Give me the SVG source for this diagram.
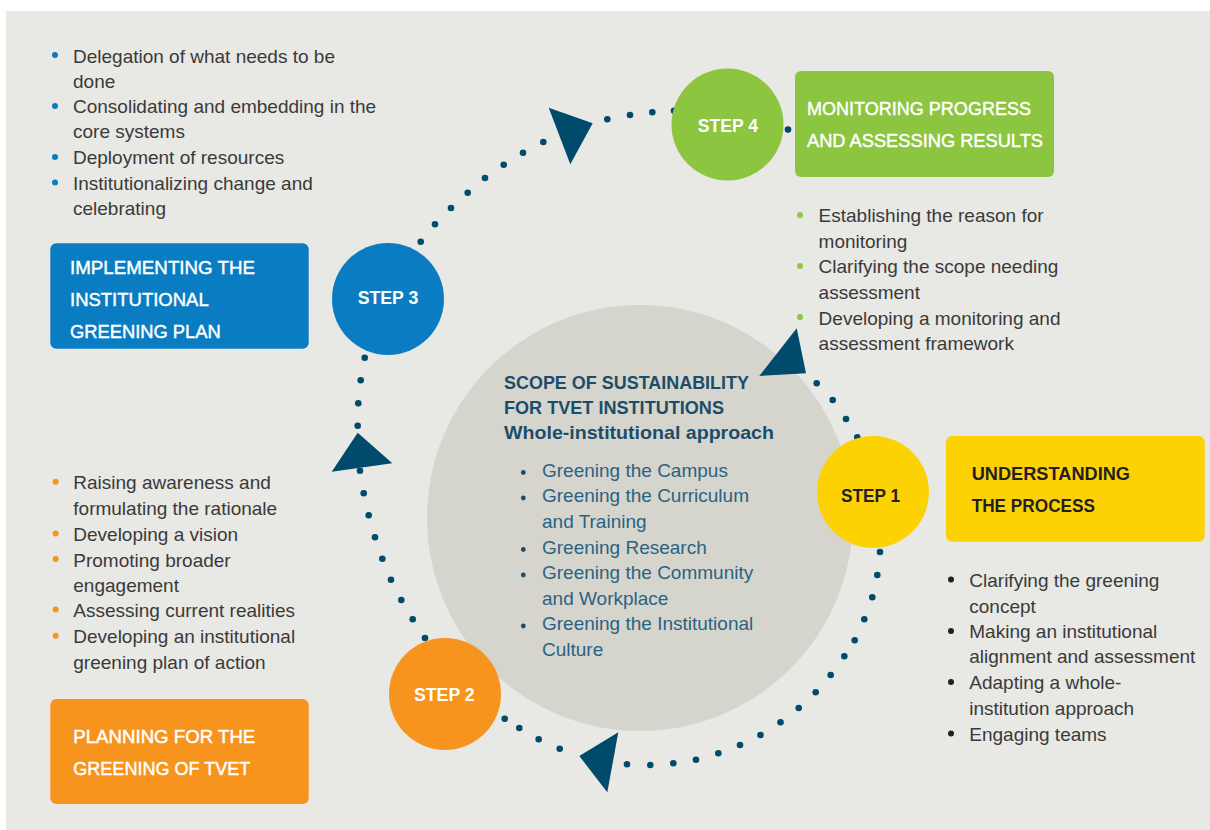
<svg xmlns="http://www.w3.org/2000/svg" width="1210" height="830" viewBox="0 0 1210 830">
<style>
.body{font-family:"Liberation Sans",Arial,sans-serif;font-size:19px;fill:#3a3a3a}
.hw{font-family:"Liberation Sans",Arial,sans-serif;font-size:19px;fill:#ffffff;stroke:#ffffff;stroke-width:0.45}
.hd{font-family:"Liberation Sans",Arial,sans-serif;font-size:19px;font-weight:bold;fill:#231f20}
.step{font-family:"Liberation Sans",Arial,sans-serif;font-size:18px;font-weight:bold;text-anchor:middle}
.ttl{font-family:"Liberation Sans",Arial,sans-serif;font-size:19px;font-weight:bold;fill:#1b4d6b}
.lst{font-family:"Liberation Sans",Arial,sans-serif;font-size:19px;fill:#2a6382}
.dot{fill:#004a6b}
.tri{fill:#004a6b}
</style>
<rect x="0" y="0" width="1210" height="830" fill="#ffffff"/>
<rect x="6" y="11" width="1204" height="819" fill="#e8e8e4"/>

<g id="scope">
<circle cx="640" cy="518" r="213" fill="#d6d5cd"/>
<text class="ttl" x="504" y="389.3" textLength="245" lengthAdjust="spacingAndGlyphs">SCOPE OF SUSTAINABILITY</text>
<text class="ttl" x="504" y="414" textLength="220" lengthAdjust="spacingAndGlyphs">FOR TVET INSTITUTIONS</text>
<text class="ttl" x="504" y="439.3" textLength="270" lengthAdjust="spacingAndGlyphs">Whole-institutional approach</text>
<g fill="#1b4d6b">
<circle cx="523.3" cy="472.5" r="2.4"/>
<circle cx="523.3" cy="498" r="2.4"/>
<circle cx="523.3" cy="549.5" r="2.4"/>
<circle cx="523.3" cy="575" r="2.4"/>
<circle cx="523.3" cy="626" r="2.4"/>
</g>
<text class="lst" x="542" y="476.7">Greening the Campus</text>
<text class="lst" x="542" y="502.3">Greening the Curriculum</text>
<text class="lst" x="542" y="527.7">and Training</text>
<text class="lst" x="542" y="554">Greening Research</text>
<text class="lst" x="542" y="579.3">Greening the Community</text>
<text class="lst" x="542" y="605">and Workplace</text>
<text class="lst" x="542" y="630">Greening the Institutional</text>
<text class="lst" x="542" y="656">Culture</text>
</g>

<g id="connectors">
<g class="dot">
<circle cx="420.7" cy="241.7" r="3.3"/><circle cx="435" cy="224.3" r="3.3"/><circle cx="451" cy="208" r="3.3"/><circle cx="467.7" cy="192.7" r="3.3"/><circle cx="485" cy="178" r="3.3"/><circle cx="503.7" cy="164.7" r="3.3"/><circle cx="523" cy="152.7" r="3.3"/><circle cx="543.3" cy="142" r="3.3"/>
<circle cx="607.3" cy="119.3" r="3.3"/><circle cx="630" cy="115" r="3.3"/><circle cx="652.3" cy="112.3" r="3.3"/><circle cx="674" cy="110.7" r="3.3"/>
<circle cx="788" cy="129.6" r="3.3"/>
<circle cx="816.7" cy="383.3" r="3.3"/><circle cx="832.7" cy="400" r="3.3"/><circle cx="846" cy="419" r="3.3"/><circle cx="857.3" cy="437.3" r="3.3"/>
<circle cx="880" cy="552" r="3.3"/><circle cx="877.3" cy="575" r="3.3"/><circle cx="872.3" cy="597.3" r="3.3"/><circle cx="864.3" cy="619.3" r="3.3"/><circle cx="854.7" cy="640.3" r="3.3"/><circle cx="844.3" cy="656.3" r="3.3"/><circle cx="830.7" cy="675" r="3.3"/><circle cx="815.7" cy="692.3" r="3.3"/><circle cx="798.7" cy="708" r="3.3"/><circle cx="780.5" cy="722.3" r="3.3"/><circle cx="760.5" cy="735" r="3.3"/><circle cx="740" cy="745" r="3.3"/><circle cx="718.3" cy="753.3" r="3.3"/><circle cx="696" cy="759.7" r="3.3"/><circle cx="673.3" cy="763.3" r="3.3"/><circle cx="650.3" cy="765" r="3.3"/><circle cx="627" cy="764.3" r="3.3"/>
<circle cx="559.7" cy="748.7" r="3.3"/><circle cx="538.7" cy="739.3" r="3.3"/><circle cx="519.3" cy="728" r="3.3"/><circle cx="504.7" cy="718.7" r="3.3"/>
<circle cx="425" cy="638" r="3.3"/><circle cx="412.7" cy="619.3" r="3.3"/><circle cx="401.3" cy="600" r="3.3"/><circle cx="391" cy="579.7" r="3.3"/><circle cx="382.3" cy="558.7" r="3.3"/><circle cx="375" cy="537.3" r="3.3"/><circle cx="368.7" cy="515.3" r="3.3"/><circle cx="363.7" cy="493.3" r="3.3"/><circle cx="360" cy="470.7" r="3.3"/>
<circle cx="357.7" cy="425.7" r="3.3"/><circle cx="358.3" cy="403.3" r="3.3"/><circle cx="360.7" cy="380.3" r="3.3"/><circle cx="364.7" cy="357.7" r="3.3"/>
</g>
<polygon class="tri" points="548.7,107.7 592.7,123.3 570.3,164.3"/>
<polygon class="tri" points="796.7,328.3 806,373.3 759.3,376"/>
<polygon class="tri" points="579.3,756 618.3,732.3 607.3,792.3"/>
<polygon class="tri" points="357.7,432.7 392.3,463.3 331.7,471.7"/>
</g>

<g id="step1">
<circle cx="873" cy="492" r="56" fill="#fdd203"/>
<text class="step" x="870.5" y="501.7" fill="#231f20" textLength="59" lengthAdjust="spacingAndGlyphs">STEP 1</text>
<rect x="946" y="436" width="258.7" height="105.7" rx="6" fill="#fdd203"/>
<text class="hd" x="971.7" y="480" textLength="158.3" lengthAdjust="spacingAndGlyphs">UNDERSTANDING</text>
<text class="hd" x="971.7" y="511.7" textLength="123.3" lengthAdjust="spacingAndGlyphs">THE PROCESS</text>
<g fill="#231f20">
<circle cx="951" cy="579.5" r="3"/><circle cx="951" cy="631" r="3"/><circle cx="951" cy="682" r="3"/><circle cx="951" cy="733.5" r="3"/>
</g>
<text class="body" x="969.3" y="586.7">Clarifying the greening</text>
<text class="body" x="969.3" y="612.7">concept</text>
<text class="body" x="969.3" y="638.3">Making an institutional</text>
<text class="body" x="969.3" y="663.3">alignment and assessment</text>
<text class="body" x="969.3" y="689.3">Adapting a whole-</text>
<text class="body" x="969.3" y="715">institution approach</text>
<text class="body" x="969.3" y="740.7">Engaging teams</text>
</g>

<g id="step2">
<circle cx="445" cy="694" r="56" fill="#f7941e"/>
<text class="step" x="444.3" y="700.7" fill="#ffffff" textLength="60.7" lengthAdjust="spacingAndGlyphs">STEP 2</text>
<rect x="50.3" y="699" width="258.4" height="105" rx="6" fill="#f7941e"/>
<text class="hw" x="73.3" y="743.3" textLength="182" lengthAdjust="spacingAndGlyphs">PLANNING FOR THE</text>
<text class="hw" x="73.3" y="775" textLength="177" lengthAdjust="spacingAndGlyphs">GREENING OF TVET</text>
<g fill="#f7941e">
<circle cx="55.7" cy="481.7" r="3"/><circle cx="55.7" cy="533.5" r="3"/><circle cx="55.7" cy="559" r="3"/><circle cx="55.7" cy="609.5" r="3"/><circle cx="55.7" cy="635.8" r="3"/>
</g>
<text class="body" x="73.3" y="489.3">Raising awareness and</text>
<text class="body" x="73.3" y="515">formulating the rationale</text>
<text class="body" x="73.3" y="541">Developing a vision</text>
<text class="body" x="73.3" y="566.7">Promoting broader</text>
<text class="body" x="73.3" y="592">engagement</text>
<text class="body" x="73.3" y="617">Assessing current realities</text>
<text class="body" x="73.3" y="643.3">Developing an institutional</text>
<text class="body" x="73.3" y="669">greening plan of action</text>
</g>

<g id="step3">
<circle cx="388" cy="299" r="56" fill="#0a7dc2"/>
<text class="step" x="388" y="304" fill="#ffffff" textLength="60.6" lengthAdjust="spacingAndGlyphs">STEP 3</text>
<rect x="50.3" y="243.3" width="258.4" height="105.4" rx="6" fill="#0a7dc2"/>
<text class="hw" x="70" y="274.3" textLength="185" lengthAdjust="spacingAndGlyphs">IMPLEMENTING THE</text>
<text class="hw" x="70" y="306" textLength="138.7" lengthAdjust="spacingAndGlyphs">INSTITUTIONAL</text>
<text class="hw" x="70" y="337.7" textLength="150.7" lengthAdjust="spacingAndGlyphs">GREENING PLAN</text>
<g fill="#0a7dc2">
<circle cx="55" cy="55" r="3"/><circle cx="55" cy="106" r="3"/><circle cx="55" cy="157" r="3"/><circle cx="55" cy="182.5" r="3"/>
</g>
<text class="body" x="73" y="62.5">Delegation of what needs to be</text>
<text class="body" x="73" y="87.5">done</text>
<text class="body" x="73" y="113">Consolidating and embedding in the</text>
<text class="body" x="73" y="138">core systems</text>
<text class="body" x="73" y="164">Deployment of resources</text>
<text class="body" x="73" y="189.5">Institutionalizing change and</text>
<text class="body" x="73" y="215">celebrating</text>
</g>

<g id="step4">
<circle cx="727.5" cy="124.5" r="56" fill="#8cc540"/>
<text class="step" x="728" y="132" fill="#ffffff" textLength="60.3" lengthAdjust="spacingAndGlyphs">STEP 4</text>
<rect x="795" y="71" width="259" height="106" rx="6" fill="#8cc540"/>
<text class="hw" x="807" y="115" textLength="224" lengthAdjust="spacingAndGlyphs">MONITORING PROGRESS</text>
<text class="hw" x="807" y="147" textLength="236" lengthAdjust="spacingAndGlyphs">AND ASSESSING RESULTS</text>
<g fill="#8cc540">
<circle cx="800" cy="215" r="3"/><circle cx="800" cy="266" r="3"/><circle cx="800" cy="317" r="3"/>
</g>
<text class="body" x="818.6" y="222">Establishing the reason for</text>
<text class="body" x="818.6" y="247.5">monitoring</text>
<text class="body" x="818.6" y="273">Clarifying the scope needing</text>
<text class="body" x="818.6" y="298.5">assessment</text>
<text class="body" x="818.6" y="324.5">Developing a monitoring and</text>
<text class="body" x="818.6" y="350">assessment framework</text>
</g>
</svg>
